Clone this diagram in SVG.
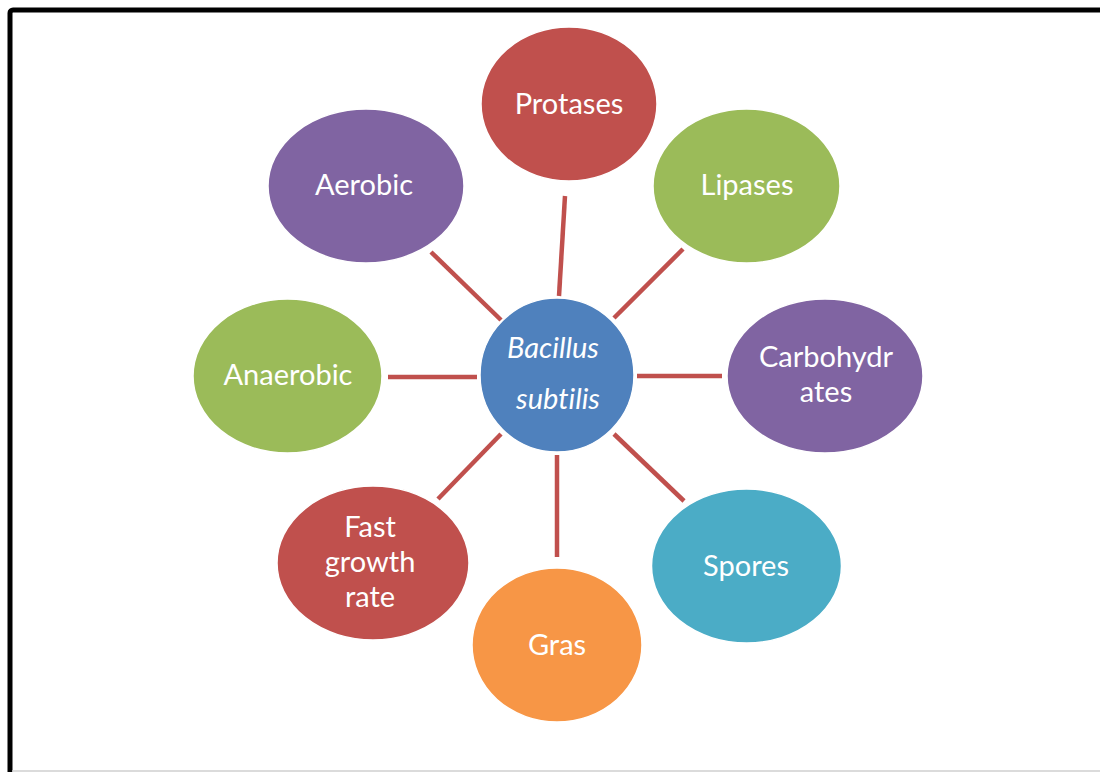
<svg xmlns="http://www.w3.org/2000/svg" width="1100" height="772" viewBox="0 0 1100 772">
<style>
.n{stroke:#ffffff;stroke-width:1.5}
.t{font-family:Lato,"Open Sans","Liberation Sans",sans-serif;font-size:29px;fill:#ffffff;text-anchor:middle;font-variant-ligatures:none;font-feature-settings:"liga" 0}
.c{stroke:#C0504D;stroke-width:4.5;fill:none}
.red{fill:#C0504D}.green{fill:#9BBB59}.purple{fill:#8064A2}.blue{fill:#4F81BD}.cyan{fill:#4BACC6}.orange{fill:#F79646}
</style>
<rect x="0" y="0" width="1100" height="772" fill="#ffffff"/>
<rect x="10" y="10" width="1200" height="800" rx="3" fill="none" stroke="#000000" stroke-width="5"/>
<line x1="12" y1="771" x2="1100" y2="771" stroke="#cfcfcf" stroke-width="1.5"/>
<g id="connectors">
<line class="c" x1="565" y1="196" x2="559" y2="296"/>
<line class="c" x1="683" y1="249" x2="614" y2="318"/>
<line class="c" x1="637" y1="376" x2="722" y2="376"/>
<line class="c" x1="614" y1="434" x2="684" y2="501"/>
<line class="c" x1="557" y1="455" x2="557" y2="557"/>
<line class="c" x1="501" y1="434" x2="438" y2="499"/>
<line class="c" x1="388" y1="377" x2="477" y2="377"/>
<line class="c" x1="431" y1="252" x2="501" y2="320"/>
</g>
<g id="center">
<circle class="n blue" cx="557" cy="375" r="77"/>
<text class="t" style="font-style:italic" x="553" y="358">Bacillus</text>
<text class="t" style="font-style:italic" x="558" y="409">subtilis</text>
</g>
<g id="protases">
<ellipse class="n red" cx="569" cy="104" rx="88" ry="77"/>
<text class="t" x="569" y="114">Protases</text>
</g>
<g id="lipases">
<ellipse class="n green" cx="746.5" cy="186" rx="93.5" ry="77"/>
<text class="t" x="747" y="195">Lipases</text>
</g>
<g id="carbohydrates">
<ellipse class="n purple" cx="825" cy="376" rx="98" ry="77"/>
<text class="t" x="826" y="367">Carbohydr</text>
<text class="t" x="826" y="402">ates</text>
</g>
<g id="spores">
<ellipse class="n cyan" cx="746.5" cy="566" rx="95" ry="77"/>
<text class="t" x="746" y="576">Spores</text>
</g>
<g id="gras">
<ellipse class="n orange" cx="557" cy="645" rx="85" ry="77"/>
<text class="t" x="557" y="655">Gras</text>
</g>
<g id="fast-growth-rate">
<ellipse class="n red" cx="373" cy="563" rx="96" ry="77"/>
<text class="t" x="370" y="537">Fast</text>
<text class="t" x="370" y="572">growth</text>
<text class="t" x="370" y="607">rate</text>
</g>
<g id="anaerobic">
<ellipse class="n green" cx="287.5" cy="376" rx="94.5" ry="77"/>
<text class="t" x="288" y="385">Anaerobic</text>
</g>
<g id="aerobic">
<ellipse class="n purple" cx="366" cy="186" rx="98" ry="77"/>
<text class="t" x="364" y="195">Aerobic</text>
</g>
</svg>
